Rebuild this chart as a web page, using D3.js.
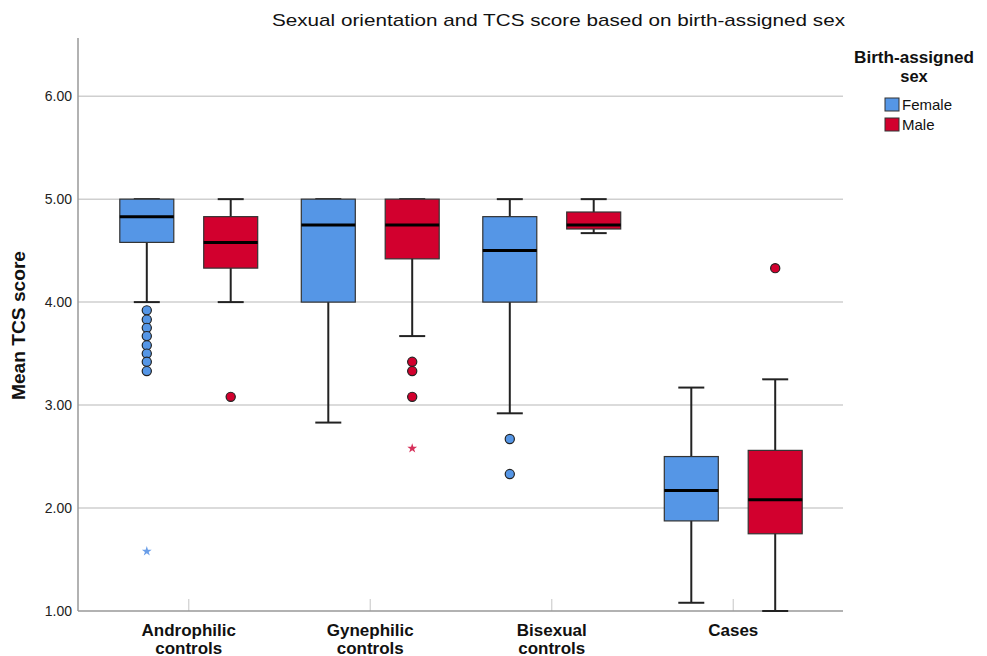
<!DOCTYPE html>
<html>
<head>
<meta charset="utf-8">
<script src="https://cdn.jsdelivr.net/npm/d3@7"></script>
<style>
  body { margin: 0; background: #fff; }
  svg { display: block; font-family: "Liberation Sans", Arial, sans-serif; }
</style>
</head>
<body>
<div id="chart"></div>
<script>
const categories = ["Androphilic controls", "Gynephilic controls", "Bisexual controls", "Cases"];
const sexes = ["Female", "Male"];
const yTicks = [1, 2, 3, 4, 5, 6];

// [whiskerLow, q1, median, q3, whiskerHigh] per category, by sex
const femaleStats = [
  [4.00, 4.58, 4.83, 5.00, 5.00],
  [2.83, 4.00, 4.75, 5.00, 5.00],
  [2.92, 4.00, 4.50, 4.83, 5.00],
  [1.08, 1.875, 2.17, 2.50, 3.17]
];
const maleStats = [
  [4.00, 4.33, 4.58, 4.83, 5.00],
  [3.67, 4.42, 4.75, 5.00, 5.00],
  [4.67, 4.71, 4.75, 4.875, 5.00],
  [1.00, 1.75, 2.08, 2.56, 3.25]
];
// outliers: circles, extremes: stars
const femaleOutliers = [
  [3.92, 3.83, 3.75, 3.67, 3.58, 3.50, 3.42, 3.33],
  [],
  [2.67, 2.33],
  []
];
const maleOutliers = [
  [3.08],
  [3.42, 3.33, 3.08],
  [],
  [4.33]
];
const femaleExtremes = [[1.58], [], [], []];
const maleExtremes = [[], [2.58], [], []];

const colors = { Female: "#5596e6", Male: "#d2002e" };
const starColors = { Female: "#6a9ee8", Male: "#d6305a" };

const width = 987, height = 656;
const plot = { left: 78, right: 843, top: 38, bottom: 611 };

const svg = d3.select("#chart").append("svg").attr("width", width).attr("height", height);

const y = d3.scaleLinear().domain([1, 6.565]).range([plot.bottom, plot.top]);
const x = d3.scaleBand().domain(categories).range([98, 824]);
const xs = d3.scaleBand().domain(sexes).range([-73, 73]).paddingInner(0.26).paddingOuter(0);

// grid
svg.append("g").selectAll("line").data(yTicks.filter((d) => d > 1)).join("line")
  .attr("x1", plot.left).attr("x2", plot.right)
  .attr("y1", (d) => y(d)).attr("y2", (d) => y(d))
  .attr("stroke", "#cfcfcf").attr("stroke-width", 1.5);

// y axis
const yAxis = svg.append("g").attr("transform", `translate(${plot.left},0)`)
  .call(d3.axisLeft(y).tickValues(yTicks).tickFormat(d3.format(".2f")).tickSize(0).tickPadding(6));
yAxis.select(".domain").remove();
yAxis.selectAll("text").attr("font-size", 14).attr("fill", "#222");
svg.append("line").attr("x1", plot.left).attr("x2", plot.left)
  .attr("y1", plot.top).attr("y2", plot.bottom).attr("stroke", "#999").attr("stroke-width", 1.5);

// x axis
const xAxis = svg.append("g").attr("transform", `translate(0,${plot.bottom})`)
  .call(d3.axisBottom(x).tickSize(0).tickPadding(0));
xAxis.select(".domain").remove();
xAxis.selectAll(".tick line").remove();
xAxis.selectAll(".tick").append("line").attr("y1", 0).attr("y2", -12).attr("stroke", "#cfcfcf").attr("stroke-width", 1.2);
xAxis.selectAll(".tick text").each(function (d) {
  const t = d3.select(this).text(null).attr("dy", null).attr("y", null)
    .attr("font-size", 17).attr("font-weight", "bold").attr("fill", "#111");
  d.split(" ").forEach((w, i) => t.append("tspan").attr("x", 0).attr("y", 25 + i * 17.5).text(w));
});
svg.append("line").attr("x1", plot.left).attr("x2", plot.right)
  .attr("y1", plot.bottom).attr("y2", plot.bottom).attr("stroke", "#999").attr("stroke-width", 1.5);

// boxes
const boxW = 54, capW = 26;
const groups = [];
categories.forEach((c, i) => {
  groups.push({ cat: c, sex: "Female", s: femaleStats[i], out: femaleOutliers[i], ext: femaleExtremes[i] });
  groups.push({ cat: c, sex: "Male", s: maleStats[i], out: maleOutliers[i], ext: maleExtremes[i] });
});

const g = svg.append("g").selectAll("g").data(groups).join("g")
  .attr("transform", (d) => `translate(${x(d.cat) + x.bandwidth() / 2 + xs(d.sex) + xs.bandwidth() / 2},0)`);

g.append("line").attr("x1", 0).attr("x2", 0).attr("y1", (d) => y(d.s[0])).attr("y2", (d) => y(d.s[4]))
  .attr("stroke", "#222").attr("stroke-width", 2);
g.append("line").attr("x1", -capW / 2).attr("x2", capW / 2).attr("y1", (d) => y(d.s[0])).attr("y2", (d) => y(d.s[0]))
  .attr("stroke", "#222").attr("stroke-width", 2);
g.append("line").attr("x1", -capW / 2).attr("x2", capW / 2).attr("y1", (d) => y(d.s[4])).attr("y2", (d) => y(d.s[4]))
  .attr("stroke", "#222").attr("stroke-width", 2);
g.append("rect").attr("x", -boxW / 2).attr("width", boxW)
  .attr("y", (d) => y(d.s[3])).attr("height", (d) => y(d.s[1]) - y(d.s[3]))
  .attr("fill", (d) => colors[d.sex]).attr("stroke", "#333").attr("stroke-width", 1.2);
g.append("line").attr("x1", -boxW / 2).attr("x2", boxW / 2).attr("y1", (d) => y(d.s[2])).attr("y2", (d) => y(d.s[2]))
  .attr("stroke", "#000").attr("stroke-width", 3);

g.each(function (d) {
  const sel = d3.select(this);
  sel.selectAll("circle").data(d.out).join("circle")
    .attr("cx", 0).attr("cy", (v) => y(v)).attr("r", 4.6)
    .attr("fill", colors[d.sex]).attr("stroke", "#222").attr("stroke-width", 1.2);
  sel.selectAll("path.star").data(d.ext).join("path").attr("class", "star")
    .attr("transform", (v) => `translate(0,${y(v)})`)
    .attr("d", d3.symbol(d3.symbolStar, 30))
    .attr("fill", starColors[d.sex]);
});

// title
svg.append("text").attr("x", 272).attr("y", 26)
  .attr("font-size", 17).attr("fill", "#111")
  .attr("textLength", 573).attr("lengthAdjust", "spacingAndGlyphs")
  .text("Sexual orientation and TCS score based on birth-assigned sex");

// y title
svg.append("text").attr("transform", "translate(25,400) rotate(-90)")
  .attr("font-size", 18).attr("font-weight", "bold").attr("fill", "#111")
  .attr("textLength", 149).attr("lengthAdjust", "spacingAndGlyphs")
  .text("Mean TCS score");

// legend
const legend = svg.append("g");
legend.append("text").attr("x", 914).attr("y", 63).attr("text-anchor", "middle")
  .attr("font-size", 16.5).attr("font-weight", "bold").attr("fill", "#111")
  .attr("textLength", 120).attr("lengthAdjust", "spacingAndGlyphs").text("Birth-assigned");
legend.append("text").attr("x", 914).attr("y", 82).attr("text-anchor", "middle")
  .attr("font-size", 16.5).attr("font-weight", "bold").attr("fill", "#111").text("sex");
const li = legend.selectAll("g.item").data(sexes).join("g").attr("class", "item")
  .attr("transform", (d, i) => `translate(885,${98 + i * 20})`);
li.append("rect").attr("width", 14).attr("height", 13).attr("fill", (d) => colors[d]).attr("stroke", "#333").attr("stroke-width", 1);
li.append("text").attr("x", 17).attr("y", 12).attr("font-size", 15).attr("fill", "#111").text((d) => d);
</script>
</body>
</html>
